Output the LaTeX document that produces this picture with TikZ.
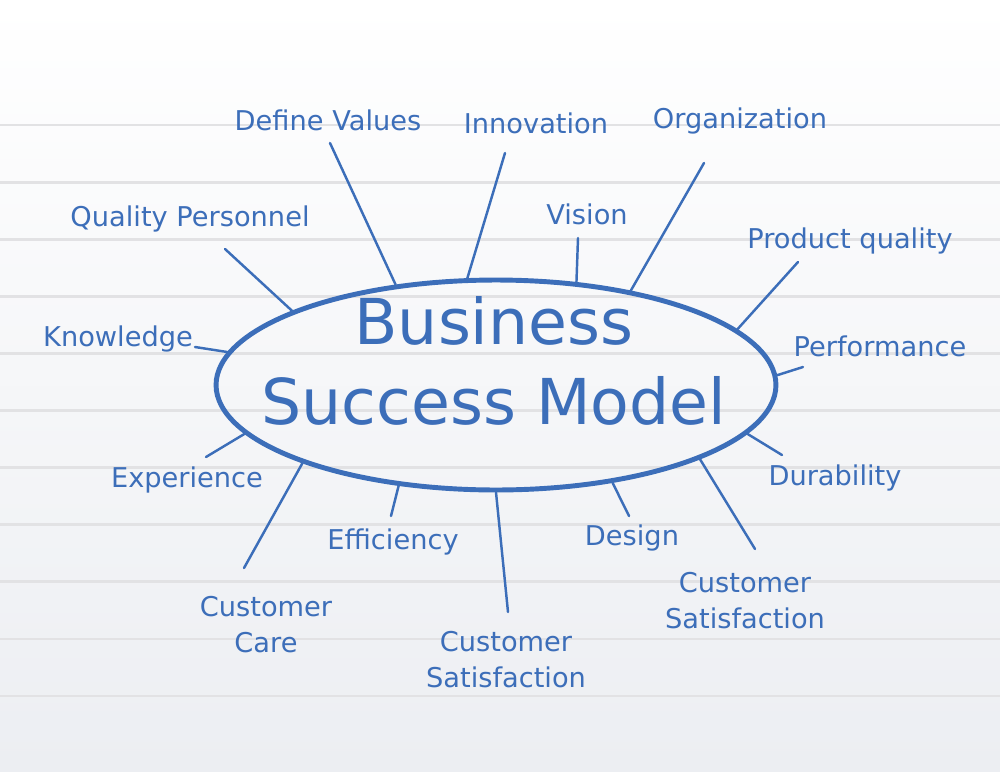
\documentclass[tikz,border=0pt]{standalone}
\usepackage{fontspec}
\setmainfont{DejaVu Sans}
\usetikzlibrary{shapes.geometric}
\definecolor{ink}{RGB}{60,110,185}
\definecolor{ruling}{RGB}{226,226,228}
\definecolor{paperbot}{RGB}{236,238,242}

\begin{document}
\begin{tikzpicture}[x=0.02cm,y=-0.02cm,
	txt/.style={text=ink,anchor=base,inner sep=0pt,align=center,font=\fontsize{15.5}{20}\selectfont},
	spoke/.style={draw=ink,line width=1.4pt,line cap=round}]
	\useasboundingbox (0,0) rectangle (1000,771);
	\shade [top color=white,middle color=white,bottom color=paperbot] (0,0) rectangle (1000,771);
	\foreach \i in {0,...,10}
		\draw [ruling,line width=1.6pt] (0,125+57.1*\i) -- (1000,125+57.1*\i);

	\node [ellipse,draw=ink,line width=2.8pt,minimum width=11.2cm,minimum height=4.2cm] at (496,385) (model) {};
	\node [txt,font=\fontsize{36}{45}\selectfont] at (494,424) (title_txt) {Business\\Success Model};

	\node [txt] at (328,130) (define_values_txt) {Define Values};
	\node [txt] at (536,133) (innovation_txt) {Innovation};
	\node [txt] at (740,128) (organization_txt) {Organization};
	\node [txt] at (587,224) (vision_txt) {Vision};
	\node [txt] at (190,226) (quality_personnel_txt) {Quality Personnel};
	\node [txt] at (850,248) (product_quality_txt) {Product quality};
	\node [txt] at (118,346) (knowledge_txt) {Knowledge};
	\node [txt] at (880,356) (performance_txt) {Performance};
	\node [txt] at (187,487) (experience_txt) {Experience};
	\node [txt] at (835,485) (durability_txt) {Durability};
	\node [txt] at (393,549) (efficiency_txt) {Efficiency};
	\node [txt] at (632,545) (design_txt) {Design};
	\node [txt] at (266,652) (customer_care_txt) {Customer\\Care};
	\node [txt] at (506,687) (cust_sat0_txt) {Customer\\Satisfaction};
	\node [txt] at (745,628) (cust_sat1_txt) {Customer\\Satisfaction};

	\coordinate (define_values_pt) at (330,143);
	\coordinate (innovation_pt) at (505,153);
	\coordinate (organization_pt) at (704,163);
	\coordinate (vision_pt) at (578,238);
	\coordinate (quality_personnel_pt) at (225,249);
	\coordinate (product_quality_pt) at (798,262);
	\coordinate (knowledge_pt) at (195,347);
	\coordinate (performance_pt) at (803,367);
	\coordinate (experience_pt) at (206,457);
	\coordinate (durability_pt) at (782,455);
	\coordinate (efficiency_pt) at (391,516);
	\coordinate (design_pt) at (629,516);
	\coordinate (customer_care_pt) at (244,568);
	\coordinate (cust_sat0_pt) at (508,612);
	\coordinate (cust_sat1_pt) at (755,549);

	\draw [spoke] (define_values_pt) -- (model.135.6);
	\draw [spoke] (innovation_pt) -- (model.105.2);
	\draw [spoke] (organization_pt) -- (model.35.7);
	\draw [spoke] (vision_pt) -- (model.52.2);
	\draw [spoke] (quality_personnel_pt) -- (model.160.5);
	\draw [spoke] (product_quality_pt) -- (model.13.8);
	\draw [spoke] (knowledge_pt) -- (model.173.6);
	\draw [spoke] (performance_pt) -- (model.2);
	\draw [spoke] (experience_pt) -- (model.191.4);
	\draw [spoke] (durability_pt) -- (model.349.5);
	\draw [spoke] (efficiency_pt) -- (model.226.5);
	\draw [spoke] (design_pt) -- (model.320.8);
	\draw [spoke] (customer_care_pt) -- (model.202.1);
	\draw [spoke] (cust_sat0_pt) -- (model.270.6);
	\draw [spoke] (cust_sat1_pt) -- (model.340.1);
\end{tikzpicture}
\end{document}
